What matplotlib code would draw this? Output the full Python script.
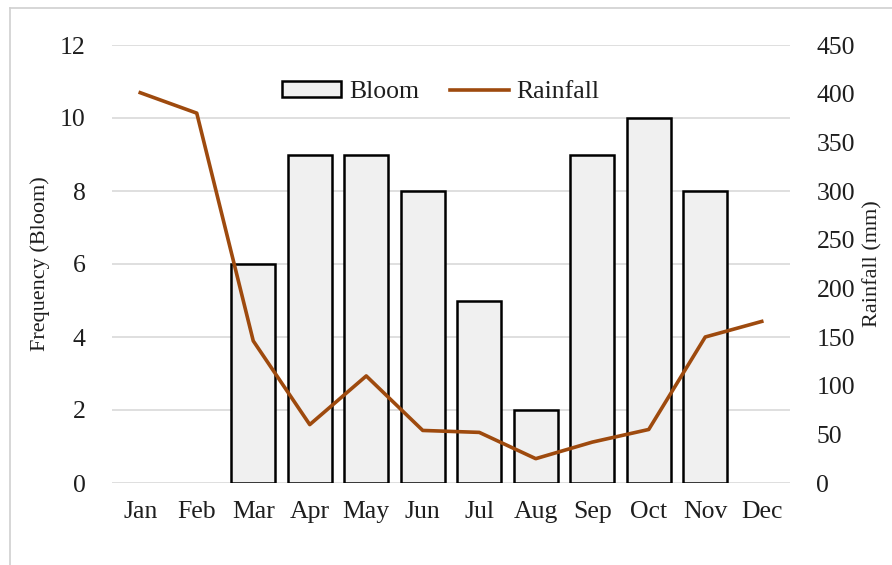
import matplotlib
matplotlib.use("Agg")
import matplotlib.pyplot as plt
from matplotlib.lines import Line2D
from matplotlib.patches import Patch
import numpy as np

months = ["Jan", "Feb", "Mar", "Apr", "May", "Jun", "Jul", "Aug", "Sep", "Oct", "Nov", "Dec"]
bloom = [0, 0, 6, 9, 9, 8, 5, 2, 9, 10, 8, 0]
rainfall = [401, 380, 146, 60, 110, 54, 52, 25, 42, 55, 150, 166]
left_ticks = [0, 2, 4, 6, 8, 10, 12]
right_ticks = [0, 50, 100, 150, 200, 250, 300, 350, 400, 450]

plt.rcParams['font.family'] = ['Liberation Serif', 'DejaVu Serif']
TXT = "#1e1e1e"
BAR_FC = "#F0F0F0"
LINE_C = "#9E4A0E"

fig = plt.figure(figsize=(8.92, 5.65), dpi=100)
ax = fig.add_axes([112/892, 1-483/565, (790-112)/892, (483-45)/565])
ax2 = ax.twinx()

x = np.arange(len(months))
lws = [0 if v == 0 else 1.8 for v in bloom]
ax.bar(x, bloom, width=0.78, color=BAR_FC, edgecolor="black", linewidth=lws, zorder=3)
ax.set_ylim(0, 12)
ax.set_yticks(left_ticks)
ax.set_xlim(-0.5, 11.5)
ax.set_xticks(x)
ax.set_xticklabels(months)
ax.grid(axis='y', color="#D9D9D9", linewidth=1.2, zorder=0)
ax.set_axisbelow(True)

ax2.plot(x, rainfall, color=LINE_C, linewidth=2.6, zorder=4)
ax2.set_ylim(0, 450)
ax2.set_yticks(right_ticks)

for a in (ax, ax2):
    for s in a.spines.values():
        s.set_visible(False)

ax.tick_params(axis='both', length=0, labelsize=18.5, colors=TXT)
ax.tick_params(axis='y', pad=19)
ax.tick_params(axis='x', pad=13)
ax2.tick_params(axis='y', length=0, labelsize=18.5, colors=TXT, pad=19)

ax.set_ylabel("Frequency (Bloom)", fontsize=16, color=TXT)
ax.yaxis.set_label_coords((50-112)/678, 0.5)
ax2.set_ylabel("Rainfall (mm)", fontsize=16, color=TXT)
ax2.yaxis.set_label_coords((863-112)/678, 0.5)

handles = [Patch(facecolor=BAR_FC, edgecolor="black", linewidth=1.8, label="Bloom"),
           Line2D([], [], color=LINE_C, linewidth=2.6, label="Rainfall")]
leg = ax2.legend(handles=handles, loc="upper center", bbox_to_anchor=(0.485, 0.97), ncol=2,
                 frameon=False, fontsize=18.5, handlelength=2.3, handleheight=0.55,
                 columnspacing=1.2, handletextpad=0.3)
for t in leg.get_texts():
    t.set_color(TXT)

# chart border (top and left)
fig.add_artist(Line2D([10/892, 1], [1-8/565, 1-8/565], transform=fig.transFigure, color="#D0D0D0", linewidth=1.2))
fig.add_artist(Line2D([10/892, 10/892], [0, 1-8/565], transform=fig.transFigure, color="#D0D0D0", linewidth=1.2))

fig.savefig("out.png", dpi=100)
